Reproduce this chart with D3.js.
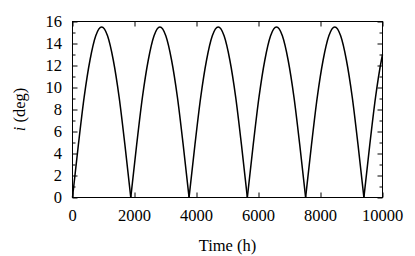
<!DOCTYPE html>
<html><head><meta charset="utf-8">
<script src="https://cdn.jsdelivr.net/npm/d3@7"></script>
<style>body{margin:0;background:#fff}svg{display:block}</style>
</head><body><svg id="c" width="415" height="256"></svg>
<script>
const timeH = [
  0,190,375,565,750,940,1130,1315,1505,1690,1880,
  2070,2255,2445,2630,2820,3010,3195,3385,3570,3760,
  3950,4135,4325,4510,4700,4890,5075,5265,5450,5640,
  5830,6015,6205,6390,6580,6770,6955,7145,7330,7520,
  7710,7895,8085,8270,8460,8650,8835,9025,9210,9400,
  9590,9775,9965,10000
];
const incDeg = [
  0,4.8,9.1,12.5,14.7,15.5,14.7,12.5,9.1,4.8,0,
  4.8,9.1,12.5,14.7,15.5,14.7,12.5,9.1,4.8,0,
  4.8,9.1,12.5,14.7,15.5,14.7,12.5,9.1,4.8,0,
  4.8,9.1,12.5,14.7,15.5,14.7,12.5,9.1,4.8,0,
  4.8,9.1,12.5,14.7,15.5,14.7,12.5,9.1,4.8,0,
  4.8,9.1,12.5,13.0
];
const xTicks = [0,2000,4000,6000,8000,10000];
const yTicks = [0,2,4,6,8,10,12,14,16];
const yMinor = [1,3,5,7,9,11,13,15];

const FONT="Liberation Serif";
const FS="16.5px";
const L=72.5,R=382.5,T=21.5,B=197.5;
const svg=d3.select("#c");
const x=d3.scaleLinear().domain([0,10000]).range([L,R]);
const y=d3.scaleLinear().domain([0,16]).range([B,T]);

const pts=timeH.map((t,i)=>[t,incDeg[i]]);
const segs=[];let cur=[];
pts.forEach((p,i)=>{cur.push(p); if(p[1]===0&&i>0){segs.push(cur);cur=[p];}});
if(cur.length>1)segs.push(cur);
const line=d3.line().x(d=>x(d[0])).y(d=>y(d[1])).curve(d3.curveMonotoneX);
svg.append("g").selectAll("path").data(segs).join("path")
  .attr("d",line).attr("fill","none").attr("stroke","#000").attr("stroke-width",1.5);

svg.append("rect").attr("x",L).attr("y",T).attr("width",R-L).attr("height",B-T)
  .attr("fill","none").attr("stroke","#000").attr("stroke-width",1);

// tick marks via d3 axes (no labels)
const ax=(g,axis)=>{g.call(axis);g.select(".domain").remove();g.selectAll("line").attr("stroke","#000");g.selectAll("text").remove();return g;};
ax(svg.append("g").attr("transform",`translate(0,${B})`),
  d3.axisBottom(x).tickValues(xTicks).tickSizeInner(-5).tickSizeOuter(0).tickFormat(""));
ax(svg.append("g").attr("transform",`translate(0,${T})`),
  d3.axisTop(x).tickValues(xTicks).tickSizeInner(-5).tickSizeOuter(0).tickFormat(""));
ax(svg.append("g").attr("transform",`translate(${L},0)`),
  d3.axisLeft(y).tickValues(yTicks).tickSizeInner(-5).tickSizeOuter(0).tickFormat(""));
ax(svg.append("g").attr("transform",`translate(${L},0)`),
  d3.axisLeft(y).tickValues(yMinor).tickSizeInner(-3).tickSizeOuter(0).tickFormat(""));
ax(svg.append("g").attr("transform",`translate(${R},0)`),
  d3.axisRight(y).tickValues(yTicks).tickSizeInner(-5).tickSizeOuter(0).tickFormat(""));
ax(svg.append("g").attr("transform",`translate(${R},0)`),
  d3.axisRight(y).tickValues(yMinor).tickSizeInner(-3).tickSizeOuter(0).tickFormat(""));

// tick labels
svg.append("g").selectAll("text").data(xTicks).join("text")
  .attr("x",d=>x(d)).attr("y",221).attr("text-anchor","middle")
  .style("font-family",FONT).style("font-size",FS).text(d=>d);
svg.append("g").selectAll("text").data(yTicks).join("text")
  .attr("x",62).attr("y",d=>y(d)+5.5).attr("text-anchor","end")
  .style("font-family",FONT).style("font-size",FS).text(d=>d);

svg.append("text").attr("x",(L+R)/2).attr("y",251).attr("text-anchor","middle")
  .style("font-family",FONT).style("font-size",FS).text("Time (h)");
const yl=svg.append("text").attr("transform",`translate(25,${(T+B)/2}) rotate(-90)`)
  .attr("text-anchor","middle").style("font-family",FONT).style("font-size",FS);
yl.append("tspan").attr("font-style","italic").text("i");
yl.append("tspan").text(" (deg)");
</script></body></html>
